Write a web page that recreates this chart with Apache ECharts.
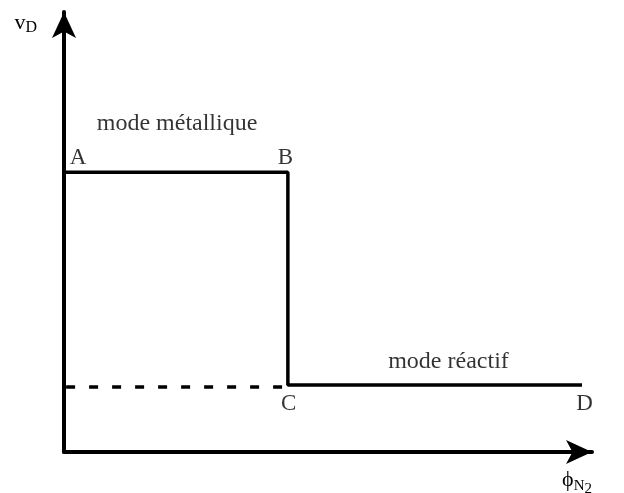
<!DOCTYPE html>
<html>
<head>
<meta charset="utf-8">
<script src="https://cdn.jsdelivr.net/npm/echarts@6/dist/echarts.min.js"></script>
<style>
  html, body { margin: 0; padding: 0; background: #fff; }
  #chart { width: 624px; height: 493px; }
</style>
</head>
<body>
<div id="chart"></div>
<script>
// courbe vitesse de dépôt vs débit N2 (unités arbitraires, 0-100)
var solidX = [0, 42.4, 42.4, 98.1];       // A -> B -> C -> D
var solidY = [63.6, 63.6, 15.2, 15.2];
var dashX = [0.4, 42.4];                  // prolongement pointillé sous A
var dashY = [14.8, 14.8];

// étiquettes des points et des régimes
var labelText = ['A', 'B', 'C', 'D', 'mode métallique', 'mode réactif'];
var labelX = [1.1, 40.5, 41.1, 97.0, 6.2, 61.4];
var labelY = [66.8, 66.8, 10.9, 10.9, 74.5, 20.5];
var labelSize = [23, 23, 23, 23, 24, 24];

function pairs(xs, ys) {
  return xs.map(function (x, i) { return [x, ys[i]]; });
}

var chart = echarts.init(document.getElementById('chart'));
var serif = 'Liberation Serif';

var option = {
  backgroundColor: '#fff',
  animation: false,
  grid: { left: 64, top: 12, width: 528, bottom: 41, outerBoundsMode: 'none', containLabel: false },
  xAxis: {
    type: 'value',
    min: 0,
    max: 100,
    axisLine: {
      lineStyle: { color: '#000', width: 4 },
      symbol: ['none', 'arrow'],
      symbolSize: [18, 26]
    },
    axisTick: { show: false },
    axisLabel: { show: false },
    splitLine: { show: false },
    name: '{phi|ϕ}{sub|N}{sub2|2}',
    nameLocation: 'end',
    nameGap: 0,
    nameTextStyle: {
      align: 'right',
      verticalAlign: 'top',
      padding: [12, 0, 0, 0],
      rich: {
        phi: { fontFamily: serif, fontSize: 22, color: '#000' },
        sub: { fontFamily: serif, fontSize: 15, color: '#000', padding: [12, 0, 0, 0] },
        sub2: { fontFamily: serif, fontSize: 15, color: '#000', padding: [18, 0, 0, 0] }
      }
    }
  },
  yAxis: {
    type: 'value',
    min: 0,
    max: 100,
    axisLine: {
      lineStyle: { color: '#000', width: 4 },
      symbol: ['none', 'arrow'],
      symbolSize: [18, 26]
    },
    axisTick: { show: false },
    axisLabel: { show: false },
    splitLine: { show: false },
    name: '{v|v}{sub|D}',
    nameLocation: 'end',
    nameGap: -24,
    nameTextStyle: {
      align: 'right',
      verticalAlign: 'bottom',
      padding: [0, 27, 0, 0],
      rich: {
        v: { fontFamily: serif, fontSize: 22, color: '#000' },
        sub: { fontFamily: serif, fontSize: 16, color: '#000', padding: [10, 0, 0, 0] }
      }
    }
  },
  series: [
    {
      type: 'line',
      data: pairs(solidX, solidY),
      symbol: 'none',
      lineStyle: { color: '#000', width: 3.5 }
    },
    {
      type: 'line',
      data: pairs(dashX, dashY),
      symbol: 'none',
      lineStyle: { color: '#000', width: 3.5, type: [9, 14] }
    },
    {
      type: 'scatter',
      symbolSize: 0,
      data: labelText.map(function (t, i) {
        return { value: [labelX[i], labelY[i]], name: t, label: { fontSize: labelSize[i] } };
      }),
      label: {
        show: true,
        position: 'right',
        distance: 0,
        formatter: '{b}',
        fontFamily: serif,
        color: '#000'
      }
    }
  ]
};

chart.setOption(option);
</script>
</body>
</html>
